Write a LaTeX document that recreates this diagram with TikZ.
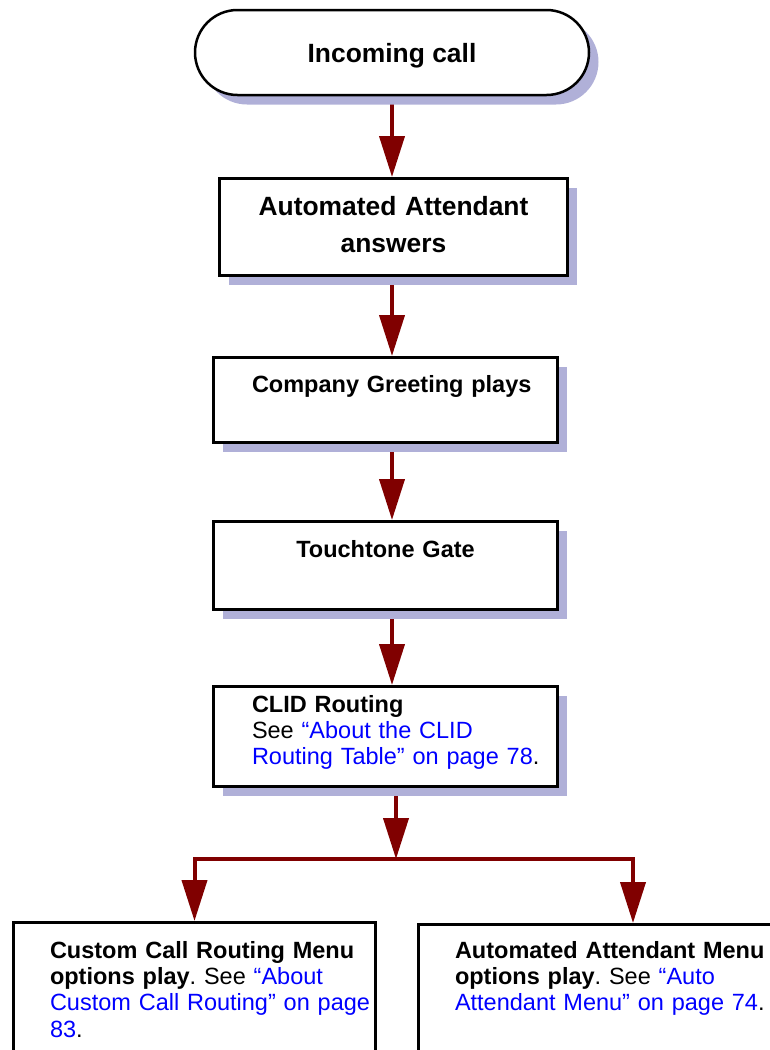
\documentclass[tikz,border=0pt]{standalone}
\usepackage{fontspec}
\setmainfont{Liberation Sans}
\usetikzlibrary{arrows.meta}
\usetikzlibrary{shadows}
\usetikzlibrary{backgrounds}

\definecolor{flowred}{RGB}{128,0,0}
\definecolor{linkblue}{RGB}{0,0,255}
\definecolor{shadowblue}{RGB}{176,176,216}
\newcommand{\seeref}[1]{\textcolor{linkblue}{#1}}
\frenchspacing

\begin{document}
\begin{tikzpicture} [x=0.5pt, y=-0.5pt,
        plainbox/.style={draw, line width=1.5pt, fill=white, anchor=north, inner sep=0pt},
        stepbox/.style={plainbox,
            drop shadow={shadow xshift=4.75pt, shadow yshift=-4.75pt, fill=shadowblue, opacity=1}},
        bigtext/.style={font=\fontsize{13.2}{18.5}\selectfont\bfseries},
        smalltext/.style={font=\fontsize{11.75}{13.2}\selectfont},
        pad/.style={align=left, execute at begin node={\leftskip=#1\relax}},
        flow/.style={draw=flowred, line width=2pt, -{Triangle[length=20.5pt, width=12.5pt]}}]
            \useasboundingbox (0,0) rectangle (770,1050);
            \clip (0,0) rectangle (770,1050);

            \node[stepbox, bigtext, anchor=center, line width=1.25pt, rounded corners=21.25pt,
                  minimum width=197pt, minimum height=42.5pt, text height=12pt, text depth=2.5pt]
                  (call) at (392,52.5) {Incoming call};
            \node[stepbox, bigtext, align=center, text width=174pt, text height=18.25pt, text depth=30.25pt]
                  (attd) at (393.5,177) {Automated Attendant\\answers};
            \node[stepbox, smalltext, pad=19.25pt, text width=172pt, text height=17.25pt, text depth=25.25pt]
                  (greet) at (385.5,356) {\textbf{Company Greeting plays}};
            \node[stepbox, smalltext, align=center, text width=172pt, text height=17.75pt, text depth=26.25pt]
                  (gate) at (385.5,520) {\textbf{Touchtone Gate}};
            \node[stepbox, smalltext, pad=19.25pt, text width=172pt, text height=12.75pt, text depth=37.25pt]
                  (clid) at (385.5,685) {\textbf{CLID Routing}\\
                  See \seeref{“About the CLID}\\
                  \seeref{Routing Table” on page 78}.};
            \node[plainbox, smalltext, pad=18.25pt, text width=181pt, text height=17.75pt, text depth=100pt]
                  (custom) at (194.5,921) {\textbf{Custom Call Routing Menu}\\
                  \textbf{options play}. See \seeref{“About}\\
                  \seeref{Custom Call Routing” on page}\\
                  \seeref{83}.};
            \node[plainbox, smalltext, pad=18.25pt, text width=214.5pt, text height=16.75pt, text depth=100pt]
                  (autom) at (633,923) {\textbf{Automated Attendant Menu}\\
                  \textbf{options play}. See \seeref{“Auto}\\
                  \seeref{Attendant Menu” on page 74}.};

            \begin{pgfonlayer}{background}
                \draw[flow] (call.south) -- (call.south |- attd.north);
                \draw[flow] (call.south |- attd.south) -- (call.south |- greet.north);
                \draw[flow] (call.south |- greet.south) -- (call.south |- gate.north);
                \draw[flow] (call.south |- gate.south) -- (call.south |- clid.north);
                \coordinate (split) at (396,859);
                \draw[flow] (split |- clid.south) -- (split);
                \draw[flow] (split) -| (custom.north);
                \draw[flow] (split) -| (autom.north);
            \end{pgfonlayer}
        \end{tikzpicture}
\end{document}
